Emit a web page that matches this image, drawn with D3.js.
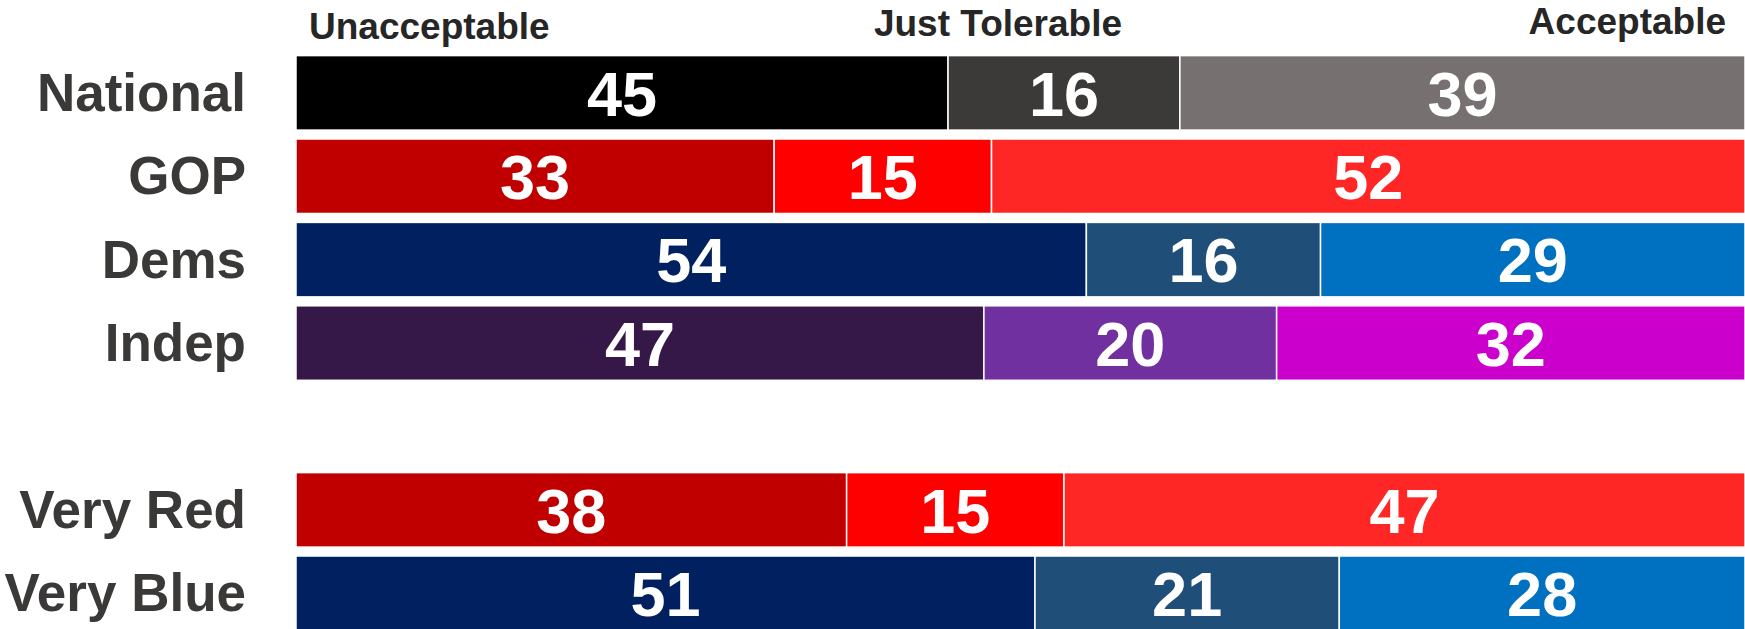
<html lang="en">

<head>
  <meta charset="UTF-8" />
  <title>Acceptable / Tolerable / Unacceptable</title>
  <style>
    body,
    html {
      margin: 0;
      padding: 0;
      background: white;
      overflow: hidden;
    }

    .row-label {
      font-family: "Liberation Sans", Arial, sans-serif;
      font-weight: bold;
      font-size: 53px;
      fill: #3b3938;
    }

    .head-label {
      font-family: "Liberation Sans", Arial, sans-serif;
      font-weight: bold;
      font-size: 37px;
      fill: #262626;
    }

    .value {
      font-family: "Liberation Sans", Arial, sans-serif;
      font-weight: bold;
      font-size: 63px;
      fill: white;
    }
  </style>
</head>

<body>
  <div id="chart"></div>
  <script src="https://cdn.jsdelivr.net/npm/d3@7"></script>

  <script>
    const categories = ["National", "GOP", "Dems", "Indep", "Very Red", "Very Blue"];
    const series = ["Unacceptable", "Just Tolerable", "Acceptable"];

    const unacceptable = [45, 33, 54, 47, 38, 51];
    const justTolerable = [16, 15, 16, 20, 15, 21];
    const acceptable = [39, 52, 29, 32, 47, 28];

    // one colour triple per row (unacceptable, tolerable, acceptable)
    const rowColors = [
      ["#000000", "#3c3a38", "#767170"],
      ["#c00000", "#ff0000", "#ff2626"],
      ["#002060", "#1f4e79", "#0070c0"],
      ["#361848", "#7030a0", "#cc00cc"],
      ["#c00000", "#ff0000", "#ff2626"],
      ["#002060", "#1f4e79", "#0070c0"]
    ];

    // empty slot between the party rows and the red/blue rows
    const gapAfter = "Indep";

    const w = 1745;
    const h = 629;

    const table = categories.map((c, i) => ({
      category: c,
      "Unacceptable": unacceptable[i],
      "Just Tolerable": justTolerable[i],
      "Acceptable": acceptable[i]
    }));

    const slots = [];
    categories.forEach(c => {
      slots.push(c);
      if (c === gapAfter) slots.push("__gap__");
    });

    const svg = d3.select("#chart")
      .append("svg")
      .attr("width", w)
      .attr("height", h);

    const x = d3.scaleLinear()
      .domain([0, 1])
      .range([296, w]);

    const y = d3.scaleBand()
      .domain(slots)
      .range([55.6, 630.5])
      .paddingInner(0.107)
      .paddingOuter(0);

    const stacked = d3.stack()
      .keys(series)
      .offset(d3.stackOffsetExpand)(table);

    const layers = svg.append("g")
      .selectAll("g")
      .data(stacked)
      .enter()
      .append("g");

    layers.selectAll("rect")
      .data(d => d.map(p => ({ p: p, key: d.key, index: d.index })))
      .enter()
      .append("rect")
      .attr("x", d => x(d.p[0]))
      .attr("y", d => y(d.p.data.category))
      .attr("width", d => x(d.p[1]) - x(d.p[0]))
      .attr("height", y.bandwidth())
      .style("fill", d => rowColors[categories.indexOf(d.p.data.category)][d.index])
      .style("stroke", "white")
      .style("stroke-width", 1.5);

    layers.selectAll("text")
      .data(d => d.map(p => ({ p: p, key: d.key })))
      .enter()
      .append("text")
      .classed("value", true)
      .attr("x", d => (x(d.p[0]) + x(d.p[1])) / 2)
      .attr("y", d => y(d.p.data.category) + y.bandwidth() / 2)
      .attr("dy", "0.36em")
      .attr("text-anchor", "middle")
      .text(d => d.p.data[d.key]);

    // row labels on the left
    svg.append("g")
      .selectAll("text")
      .data(categories)
      .enter()
      .append("text")
      .classed("row-label", true)
      .attr("x", 246)
      .attr("y", d => y(d) + y.bandwidth() / 2)
      .attr("dy", "0.34em")
      .attr("text-anchor", "end")
      .text(d => d);

    // column headings above the first bar
    const headPos = [
      { x: 309, y: 39, anchor: "start" },
      { x: 998, y: 36, anchor: "middle" },
      { x: 1726, y: 34, anchor: "end" }
    ];

    svg.append("g")
      .selectAll("text")
      .data(series)
      .enter()
      .append("text")
      .classed("head-label", true)
      .attr("x", (d, i) => headPos[i].x)
      .attr("y", (d, i) => headPos[i].y)
      .attr("text-anchor", (d, i) => headPos[i].anchor)
      .text(d => d);
  </script>

</body>

</html>
